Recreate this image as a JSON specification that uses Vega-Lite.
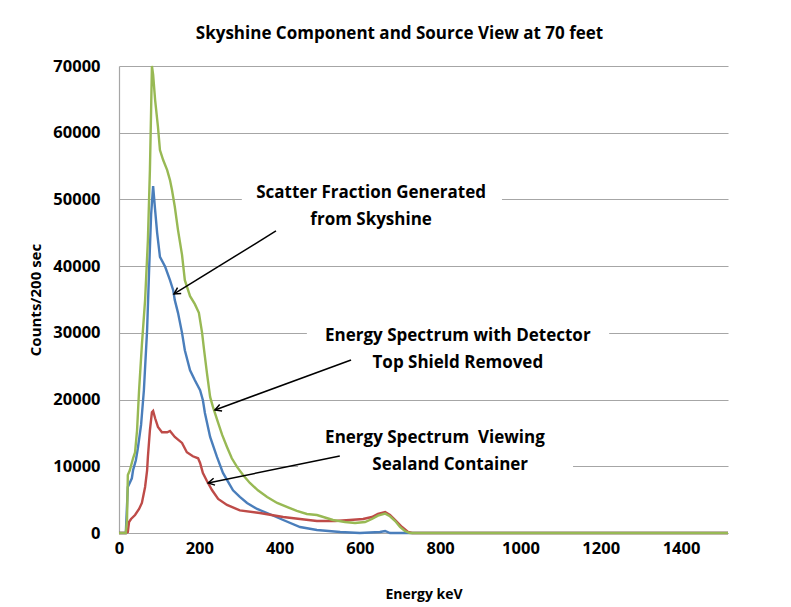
{
  "$schema": "https://vega.github.io/schema/vega-lite/v6.json",
  "width": 609,
  "height": 467,
  "autosize": {"type": "none"},
  "padding": {"left": 119, "top": 66, "right": 63, "bottom": 74},
  "background": "white",
  "title": {"text": "Skyshine Component and Source View at 70 feet", "font": "Open Sans", "fontSize": 17, "fontWeight": "bold", "color": "black", "anchor": "middle", "dx": -24, "offset": 15},
  "config": {
    "view": {"stroke": null},
    "axis": {"labelFont": "Open Sans", "labelFontWeight": "bold", "labelFontSize": 16.5, "labelColor": "black", "titleFont": "Open Sans", "titleFontWeight": "bold", "titleFontSize": 15, "titleColor": "black", "ticks": false, "domainColor": "#a6a6a6", "domainWidth": 1.2, "gridColor": "#a6a6a6", "gridWidth": 1.2}
  },
  "datasets": {
    "spectra": [
      {"s": "blue", "keV": 0, "counts": 0}, {"s": "blue", "keV": 17, "counts": 0}, {"s": "blue", "keV": 20, "counts": 4200}, {"s": "blue", "keV": 22, "counts": 6900}, {"s": "blue", "keV": 32, "counts": 8200}, {"s": "blue", "keV": 35, "counts": 9400}, {"s": "blue", "keV": 42, "counts": 10900}, {"s": "blue", "keV": 47, "counts": 12700}, {"s": "blue", "keV": 55, "counts": 16200}, {"s": "blue", "keV": 62, "counts": 21400}, {"s": "blue", "keV": 70, "counts": 30400}, {"s": "blue", "keV": 75, "counts": 39400}, {"s": "blue", "keV": 80, "counts": 47700}, {"s": "blue", "keV": 85, "counts": 52000}, {"s": "blue", "keV": 90, "counts": 48400}, {"s": "blue", "keV": 95, "counts": 45000}, {"s": "blue", "keV": 102, "counts": 41400}, {"s": "blue", "keV": 115, "counts": 39900}, {"s": "blue", "keV": 127, "counts": 37900}, {"s": "blue", "keV": 135, "counts": 36400}, {"s": "blue", "keV": 139, "counts": 34900}, {"s": "blue", "keV": 147, "counts": 33000}, {"s": "blue", "keV": 157, "counts": 30000}, {"s": "blue", "keV": 164, "counts": 27400}, {"s": "blue", "keV": 177, "counts": 24400}, {"s": "blue", "keV": 189, "counts": 22900}, {"s": "blue", "keV": 202, "counts": 21400}, {"s": "blue", "keV": 209, "counts": 19900}, {"s": "blue", "keV": 214, "counts": 18000}, {"s": "blue", "keV": 227, "counts": 14400}, {"s": "blue", "keV": 244, "counts": 11400}, {"s": "blue", "keV": 259, "counts": 9000}, {"s": "blue", "keV": 284, "counts": 6400}, {"s": "blue", "keV": 301, "counts": 5400}, {"s": "blue", "keV": 319, "counts": 4500}, {"s": "blue", "keV": 344, "counts": 3600}, {"s": "blue", "keV": 369, "counts": 3000}, {"s": "blue", "keV": 409, "counts": 1950}, {"s": "blue", "keV": 451, "counts": 900}, {"s": "blue", "keV": 493, "counts": 450}, {"s": "blue", "keV": 551, "counts": 150}, {"s": "blue", "keV": 600, "counts": 0}, {"s": "blue", "keV": 650, "counts": 150}, {"s": "blue", "keV": 663, "counts": 300}, {"s": "blue", "keV": 675, "counts": 0}, {"s": "blue", "keV": 1517, "counts": 0},
      {"s": "red", "keV": 0, "counts": 0}, {"s": "red", "keV": 17, "counts": 0}, {"s": "red", "keV": 22, "counts": 150}, {"s": "red", "keV": 25, "counts": 1650}, {"s": "red", "keV": 30, "counts": 2100}, {"s": "red", "keV": 40, "counts": 2700}, {"s": "red", "keV": 50, "counts": 3600}, {"s": "red", "keV": 57, "counts": 4500}, {"s": "red", "keV": 65, "counts": 6900}, {"s": "red", "keV": 70, "counts": 9400}, {"s": "red", "keV": 72, "counts": 11400}, {"s": "red", "keV": 77, "counts": 15400}, {"s": "red", "keV": 82, "counts": 18100}, {"s": "red", "keV": 85, "counts": 18300}, {"s": "red", "keV": 90, "counts": 17200}, {"s": "red", "keV": 97, "counts": 15900}, {"s": "red", "keV": 107, "counts": 15100}, {"s": "red", "keV": 120, "counts": 15100}, {"s": "red", "keV": 127, "counts": 15300}, {"s": "red", "keV": 139, "counts": 14400}, {"s": "red", "keV": 157, "counts": 13500}, {"s": "red", "keV": 169, "counts": 12100}, {"s": "red", "keV": 184, "counts": 11500}, {"s": "red", "keV": 197, "counts": 11200}, {"s": "red", "keV": 202, "counts": 10500}, {"s": "red", "keV": 209, "counts": 9000}, {"s": "red", "keV": 219, "counts": 7800}, {"s": "red", "keV": 232, "counts": 6400}, {"s": "red", "keV": 247, "counts": 5100}, {"s": "red", "keV": 269, "counts": 4200}, {"s": "red", "keV": 301, "counts": 3400}, {"s": "red", "keV": 351, "counts": 3000}, {"s": "red", "keV": 409, "counts": 2400}, {"s": "red", "keV": 451, "counts": 2100}, {"s": "red", "keV": 493, "counts": 1800}, {"s": "red", "keV": 538, "counts": 1800}, {"s": "red", "keV": 575, "counts": 1950}, {"s": "red", "keV": 608, "counts": 2100}, {"s": "red", "keV": 630, "counts": 2400}, {"s": "red", "keV": 645, "counts": 2850}, {"s": "red", "keV": 663, "counts": 3150}, {"s": "red", "keV": 675, "counts": 2700}, {"s": "red", "keV": 688, "counts": 1950}, {"s": "red", "keV": 705, "counts": 900}, {"s": "red", "keV": 720, "counts": 150}, {"s": "red", "keV": 730, "counts": 0}, {"s": "red", "keV": 1517, "counts": 0},
      {"s": "green", "keV": 0, "counts": 0}, {"s": "green", "keV": 17, "counts": 0}, {"s": "green", "keV": 20, "counts": 1950}, {"s": "green", "keV": 22, "counts": 8700}, {"s": "green", "keV": 27, "counts": 9400}, {"s": "green", "keV": 35, "counts": 11200}, {"s": "green", "keV": 40, "counts": 12100}, {"s": "green", "keV": 45, "counts": 15400}, {"s": "green", "keV": 50, "counts": 21400}, {"s": "green", "keV": 57, "counts": 28200}, {"s": "green", "keV": 65, "counts": 34900}, {"s": "green", "keV": 72, "counts": 43900}, {"s": "green", "keV": 77, "counts": 54400}, {"s": "green", "keV": 80, "counts": 63400}, {"s": "green", "keV": 82, "counts": 70000}, {"s": "green", "keV": 85, "counts": 68700}, {"s": "green", "keV": 90, "counts": 64900}, {"s": "green", "keV": 97, "counts": 60900}, {"s": "green", "keV": 102, "counts": 57400}, {"s": "green", "keV": 110, "counts": 55900}, {"s": "green", "keV": 120, "counts": 54400}, {"s": "green", "keV": 127, "counts": 52900}, {"s": "green", "keV": 132, "counts": 51400}, {"s": "green", "keV": 139, "counts": 48900}, {"s": "green", "keV": 147, "counts": 45400}, {"s": "green", "keV": 157, "counts": 41700}, {"s": "green", "keV": 164, "counts": 37900}, {"s": "green", "keV": 177, "counts": 35500}, {"s": "green", "keV": 189, "counts": 34300}, {"s": "green", "keV": 199, "counts": 33000}, {"s": "green", "keV": 207, "counts": 30000}, {"s": "green", "keV": 212, "counts": 27400}, {"s": "green", "keV": 219, "counts": 24000}, {"s": "green", "keV": 227, "counts": 20400}, {"s": "green", "keV": 234, "counts": 18900}, {"s": "green", "keV": 247, "counts": 16500}, {"s": "green", "keV": 257, "counts": 14700}, {"s": "green", "keV": 269, "counts": 12900}, {"s": "green", "keV": 281, "counts": 11200}, {"s": "green", "keV": 294, "counts": 9900}, {"s": "green", "keV": 309, "counts": 8700}, {"s": "green", "keV": 326, "counts": 7500}, {"s": "green", "keV": 346, "counts": 6400}, {"s": "green", "keV": 369, "counts": 5400}, {"s": "green", "keV": 394, "counts": 4500}, {"s": "green", "keV": 418, "counts": 3900}, {"s": "green", "keV": 443, "counts": 3300}, {"s": "green", "keV": 468, "counts": 2850}, {"s": "green", "keV": 493, "counts": 2700}, {"s": "green", "keV": 533, "counts": 1950}, {"s": "green", "keV": 563, "counts": 1650}, {"s": "green", "keV": 588, "counts": 1500}, {"s": "green", "keV": 613, "counts": 1650}, {"s": "green", "keV": 630, "counts": 2100}, {"s": "green", "keV": 645, "counts": 2600}, {"s": "green", "keV": 663, "counts": 2900}, {"s": "green", "keV": 675, "counts": 2500}, {"s": "green", "keV": 688, "counts": 1800}, {"s": "green", "keV": 700, "counts": 900}, {"s": "green", "keV": 712, "counts": 300}, {"s": "green", "keV": 725, "counts": 0}, {"s": "green", "keV": 1517, "counts": 0}
    ],
    "boxes": [
      {"keV": 306, "keV2": 954, "counts": 45100, "counts2": 53200},
      {"keV": 468, "keV2": 1221, "counts": 23230, "counts2": 31630},
      {"keV": 446, "keV2": 1131, "counts": 7945, "counts2": 16190}
    ],
    "labels": [
      {"keV": 628, "counts": 50970, "t": "Scatter Fraction Generated"},
      {"keV": 628, "counts": 46920, "t": "from Skyshine"},
      {"keV": 844, "counts": 29530, "t": "Energy Spectrum with Detector"},
      {"keV": 844, "counts": 25480, "t": "Top Shield Removed"},
      {"keV": 787, "counts": 14240, "t": "Energy Spectrum\u00a0 Viewing"},
      {"keV": 825, "counts": 10190, "t": "Sealand Container"}
    ],
    "arrows": [
      {"keV": 391, "counts": 45270, "keV2": 137, "counts2": 35830},
      {"keV": 578, "counts": 25930, "keV2": 239, "counts2": 18440},
      {"keV": 550, "counts": 11540, "keV2": 222, "counts2": 7500}
    ],
    "heads": [
      {"keV": 137, "counts": 35830, "dir": 148.3},
      {"keV": 239, "counts": 18440, "dir": 159.8},
      {"keV": 222, "counts": 7500, "dir": 168.4}
    ]
  },
  "encoding": {
    "x": {"field": "keV", "type": "quantitative", "scale": {"domain": [0, 1517], "nice": false, "zero": true}, "axis": {"title": "Energy keV", "titleFontSize": 14, "grid": false, "values": [0, 200, 400, 600, 800, 1000, 1200, 1400], "format": "d", "labelPadding": 7, "labelFlush": false, "titlePadding": 31}},
    "y": {"field": "counts", "type": "quantitative", "scale": {"domain": [0, 70000], "nice": false}, "axis": {"title": "Counts/200 sec", "grid": true, "values": [0, 10000, 20000, 30000, 40000, 50000, 60000, 70000], "format": "d", "labelPadding": 19, "titlePadding": 9}}
  },
  "layer": [
    {
      "data": {"name": "boxes"},
      "mark": {"type": "rect", "fill": "white"},
      "encoding": {"x2": {"field": "keV2"}, "y2": {"field": "counts2"}}
    },
    {
      "data": {"name": "spectra"},
      "mark": {"type": "line", "strokeWidth": 2.4, "interpolate": "linear"},
      "encoding": {
        "color": {"field": "s", "type": "nominal", "scale": {"domain": ["blue", "red", "green"], "range": ["#4A7EBB", "#BE4B48", "#98B954"]}, "legend": null}
      }
    },
    {
      "data": {"name": "arrows"},
      "mark": {"type": "rule", "color": "black", "strokeWidth": 1.5},
      "encoding": {"x2": {"field": "keV2"}, "y2": {"field": "counts2"}}
    },
    {
      "data": {"name": "heads"},
      "mark": {"type": "point", "shape": "M-1,-0.55L0,0L-1,0.55", "filled": false, "stroke": "black", "strokeWidth": 1.5, "opacity": 1, "size": 160},
      "encoding": {"angle": {"field": "dir", "type": "quantitative", "scale": null}}
    },
    {
      "data": {"name": "labels"},
      "mark": {"type": "text", "font": "Open Sans", "fontSize": 17, "fontWeight": "bold", "color": "black", "align": "center", "baseline": "middle"},
      "encoding": {"text": {"field": "t"}}
    }
  ]
}
